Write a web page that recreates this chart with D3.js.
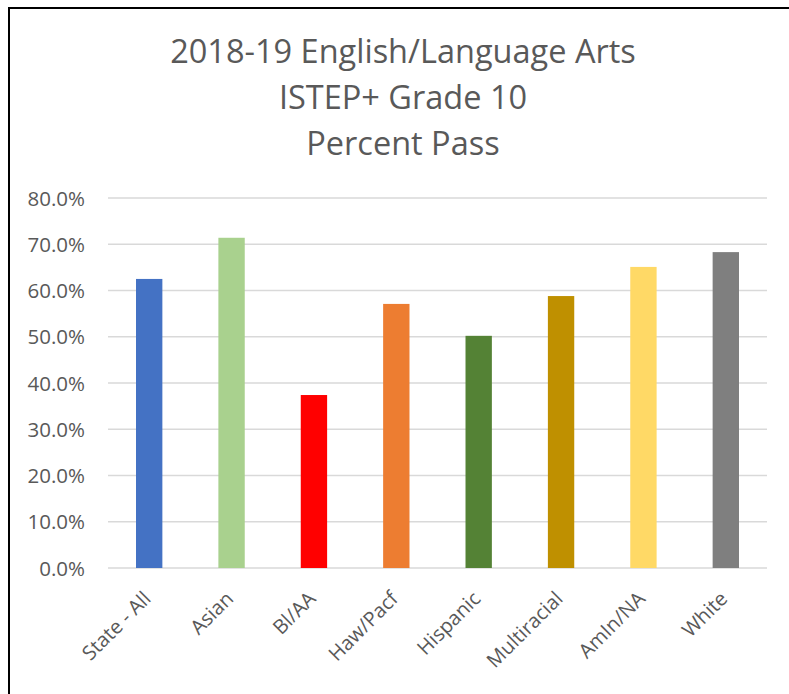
<!DOCTYPE html>
<html>
<head>
<meta charset="utf-8">
<script src="https://cdn.jsdelivr.net/npm/d3@7"></script>
<style>
  body { margin: 0; background: #fff; }
  svg text { font-family: "Open Sans", sans-serif; fill: #595959; }
</style>
</head>
<body>
<div id="chart"></div>
<script>
const categories = ['State - All', 'Asian', 'Bl/AA', 'Haw/Pacf', 'Hispanic', 'Multiracial', 'AmIn/NA', 'White']
const values = [0.625, 0.714, 0.374, 0.571, 0.502, 0.588, 0.651, 0.683]
const colors = ['#4472c4', '#a9d18e', '#ff0000', '#ed7d31', '#548235', '#bf9000', '#ffd966', '#7f7f7f']
const yTicks = [0, 0.1, 0.2, 0.3, 0.4, 0.5, 0.6, 0.7, 0.8]
const titleLines = ['2018-19 English/Language Arts', 'ISTEP+ Grade 10', 'Percent Pass']

const W = 789, H = 694
const plot = { left: 108, right: 767, top: 198, bottom: 568 }

const svg = d3.select('#chart').append('svg')
  .attr('width', W)
  .attr('height', H)

// chart frame (only top and left edges show in the crop)
svg.append('path')
  .attr('d', `M9,${H} L9,8 L${W},8`)
  .attr('fill', 'none')
  .attr('stroke', '#000')
  .attr('stroke-width', 2)

// title
svg.append('g')
  .selectAll('text')
  .data(titleLines)
  .join('text')
  .attr('x', 403)
  .attr('y', (d, i) => 63 + i * 46)
  .attr('text-anchor', 'middle')
  .attr('font-size', 32.5)
  .text(d => d)

const x = d3.scaleBand()
  .domain(categories)
  .range([plot.left, plot.right])
  .paddingInner(0.68)
  .paddingOuter(0.34)

const y = d3.scaleLinear()
  .domain([0, 0.8])
  .range([plot.bottom, plot.top])

// gridlines
svg.append('g')
  .selectAll('line')
  .data(yTicks)
  .join('line')
  .attr('x1', plot.left)
  .attr('x2', plot.right)
  .attr('y1', d => y(d))
  .attr('y2', d => y(d))
  .attr('stroke', '#d9d9d9')
  .attr('stroke-width', 1.5)

// y axis labels
const yAxis = svg.append('g')
  .attr('transform', `translate(${plot.left - 20},0)`)
  .call(d3.axisLeft(y).tickValues(yTicks).tickFormat(d3.format('.1%')).tickSize(0))
yAxis.select('.domain').remove()
yAxis.selectAll('text')
  .attr('font-size', 20.5)
  .attr('fill', '#595959')
  .attr('dy', '0.35em')
  .style('font-family', '"Open Sans", sans-serif')

// bars
svg.append('g')
  .selectAll('rect')
  .data(values)
  .join('rect')
  .attr('x', (d, i) => x(categories[i]))
  .attr('width', x.bandwidth())
  .attr('y', d => y(d))
  .attr('height', d => y(0) - y(d))
  .attr('fill', (d, i) => colors[i])

// x labels, rotated
svg.append('g')
  .selectAll('text')
  .data(categories)
  .join('text')
  .attr('transform', d => `translate(${x(d) + x.bandwidth() / 2 + 3},${plot.bottom + 32}) rotate(-45)`)
  .attr('text-anchor', 'end')
  .attr('font-size', 20)
  .text(d => d)
</script>
</body>
</html>
